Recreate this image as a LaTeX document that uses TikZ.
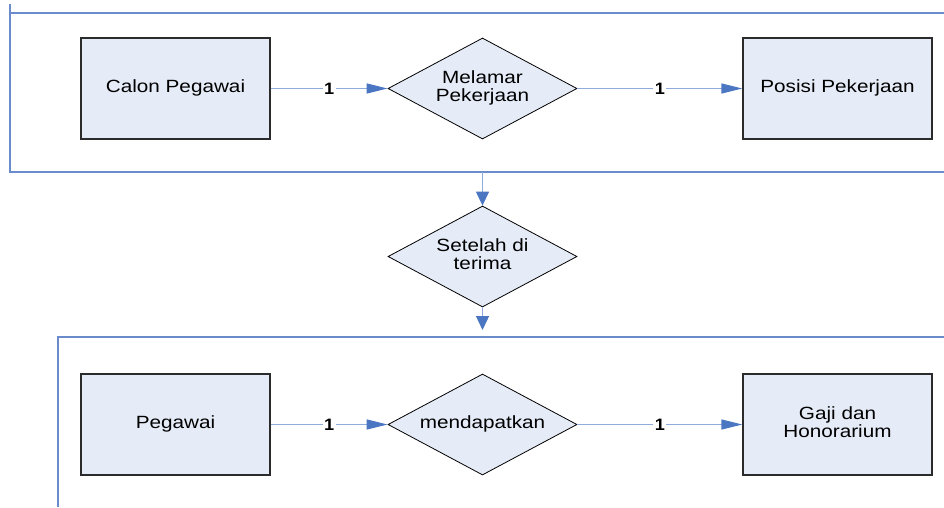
\documentclass[tikz,border=0pt]{standalone}
\usepackage{fontspec}
\usepackage{graphicx}
\setmainfont{Liberation Sans}
\usetikzlibrary{shapes.geometric,arrows.meta}
\definecolor{framecol}{HTML}{6A8CCC}
\definecolor{conncol}{HTML}{8FABDC}
\definecolor{tipcol}{HTML}{4A76C2}
\definecolor{boxfill}{HTML}{E6ECF7}
\definecolor{boxline}{HTML}{2B2B2B}
\newcommand{\wtxt}[1]{\scalebox{1.17}[1]{\fontsize{17.7}{18}\selectfont\begin{tabular}{@{}c@{}}#1\end{tabular}}}
\newcommand{\wnum}[1]{\scalebox{1.1}[1]{\fontsize{16.5}{17}\selectfont\bfseries #1}}
\tikzset{
  entbox/.style={draw=boxline, line width=1.3pt, fill=boxfill, rectangle,
    minimum width=189pt, minimum height=101pt, inner sep=0pt},
  relbox/.style={draw=black, line width=0.8pt, fill=boxfill, diamond, aspect=1.87,
    minimum width=189pt, minimum height=101pt, inner sep=0pt},
  frameline/.style={draw=framecol, line width=1.1pt},
  conn/.style={draw=conncol, line width=1.3pt},
  harrow/.style={-{Triangle[length=21pt,width=10pt,color=tipcol]}},
  varrow/.style={-{Triangle[length=14pt,width=13pt,color=tipcol]}},
  lbl/.style={fill=white, inner sep=1.5pt, text=black}
}
\begin{document}
\begin{tikzpicture}[x=1pt,y=-1pt]
\useasboundingbox (0,0) rectangle (944,507);
% frames
\draw[frameline] (10,4) -- (10,172) -- (944,172);
\draw[frameline] (10,13) -- (944,13);
\draw[frameline] (58,507) -- (58,337) -- (944,337);
% nodes
\node[entbox] (calon) at (175.5,88.5) {\wtxt{Calon Pegawai}};
\node[relbox] (melamar) at (482.5,88.5) {\wtxt{Melamar\\Pekerjaan}};
\node[entbox] (posisi) at (837.5,88.5) {\wtxt{Posisi Pekerjaan}};
\node[relbox] (setelah) at (482.5,256.5) {\wtxt{Setelah di\\terima}};
\node[entbox] (pegawai) at (175.5,424.5) {\wtxt{Pegawai}};
\node[relbox] (dapat) at (482.5,424.5) {\wtxt{mendapatkan}};
\node[entbox] (gaji) at (837.5,424.5) {\wtxt{Gaji dan\\Honorarium}};
\coordinate (f1) at (482.5,172);
\coordinate (f2) at (482.5,330);
% connectors
\draw[conn,harrow] (calon) -- node[lbl]{\wnum{1}} (melamar);
\draw[conn,harrow] (melamar) -- node[lbl]{\wnum{1}} (posisi);
\draw[conn,harrow] (pegawai) -- node[lbl]{\wnum{1}} (dapat);
\draw[conn,harrow] (dapat) -- node[lbl]{\wnum{1}} (gaji);
\draw[conn,varrow] (f1) -- (setelah.north);
\draw[conn,varrow] (setelah.south) -- (f2);
\end{tikzpicture}
\end{document}
